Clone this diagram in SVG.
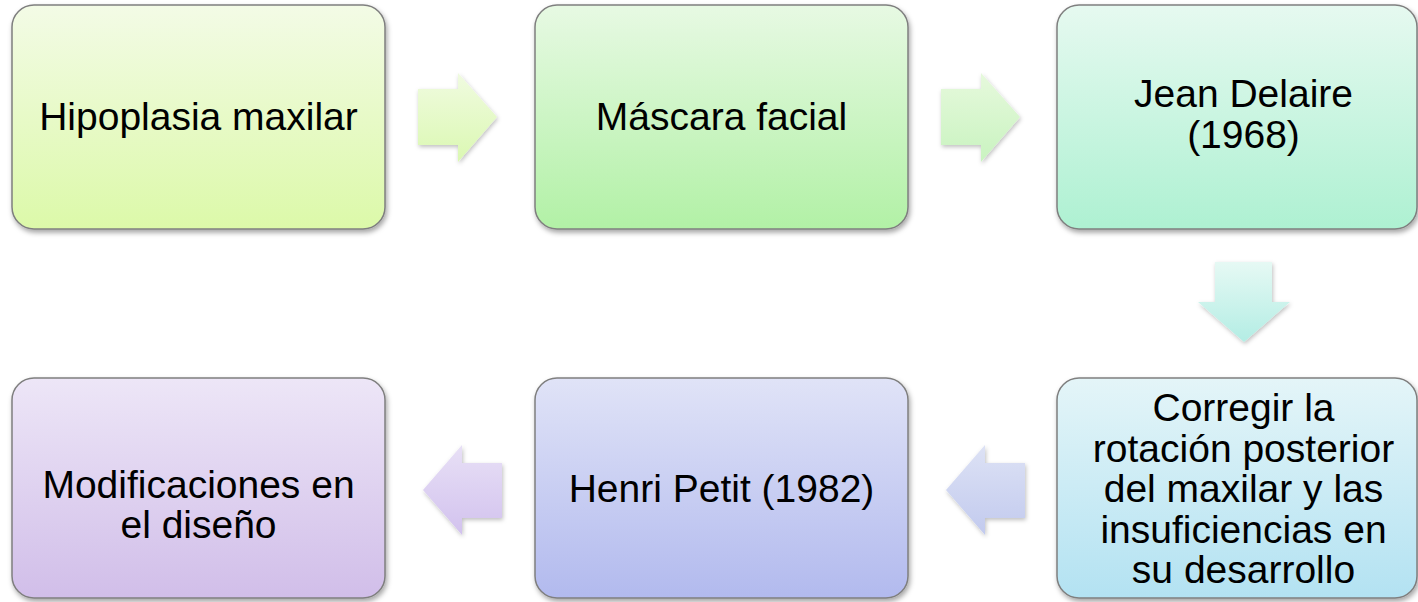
<svg xmlns="http://www.w3.org/2000/svg" width="1418" height="602" viewBox="0 0 1418 602">
<defs>
<filter id="sh" x="-10%" y="-10%" width="120%" height="125%">
<feDropShadow dx="1.5" dy="3" stdDeviation="2.5" flood-color="#000" flood-opacity="0.35"/>
</filter>
<filter id="ash" x="-20%" y="-20%" width="140%" height="140%">
<feDropShadow dx="1" dy="2" stdDeviation="2" flood-color="#000" flood-opacity="0.25"/>
</filter>
<linearGradient id="g1" x1="0" y1="0" x2="0" y2="1"><stop offset="0" stop-color="#f3fbe6"/><stop offset="1" stop-color="#dcf9a9"/></linearGradient>
<linearGradient id="g2" x1="0" y1="0" x2="0" y2="1"><stop offset="0" stop-color="#e7f9e3"/><stop offset="1" stop-color="#b2f1a6"/></linearGradient>
<linearGradient id="g3" x1="0" y1="0" x2="0" y2="1"><stop offset="0" stop-color="#e6f9f0"/><stop offset="1" stop-color="#aef1d2"/></linearGradient>
<linearGradient id="g4" x1="0" y1="0" x2="0" y2="1"><stop offset="0" stop-color="#e4f5f8"/><stop offset="1" stop-color="#b3e2f2"/></linearGradient>
<linearGradient id="g5" x1="0" y1="0" x2="0" y2="1"><stop offset="0" stop-color="#e0e3f7"/><stop offset="1" stop-color="#b2baee"/></linearGradient>
<linearGradient id="g6" x1="0" y1="0" x2="0" y2="1"><stop offset="0" stop-color="#ede6f7"/><stop offset="1" stop-color="#d1bee9"/></linearGradient>
<linearGradient id="a1" x1="0" y1="0" x2="0" y2="1"><stop offset="0" stop-color="#f0fbe0"/><stop offset="1" stop-color="#dbf8b2"/></linearGradient>
<linearGradient id="a2" x1="0" y1="0" x2="0" y2="1"><stop offset="0" stop-color="#e6f9dc"/><stop offset="1" stop-color="#c9f3c0"/></linearGradient>
<linearGradient id="a3" x1="0" y1="0" x2="0" y2="1"><stop offset="0" stop-color="#e6f9f4"/><stop offset="1" stop-color="#b3ede4"/></linearGradient>
<linearGradient id="a4" x1="0" y1="0" x2="0" y2="1"><stop offset="0" stop-color="#dde2f5"/><stop offset="1" stop-color="#c2caee"/></linearGradient>
<linearGradient id="a5" x1="0" y1="0" x2="0" y2="1"><stop offset="0" stop-color="#e8e0f6"/><stop offset="1" stop-color="#d2c2ee"/></linearGradient>
</defs>
<style>
.box{stroke:#7f7f7f;stroke-width:1.5;filter:url(#sh)}
.arr{filter:url(#ash)}
text{font-family:"Liberation Sans",Arial,sans-serif;font-size:39px;fill:#000;text-anchor:middle}
</style>
<g id="connectors">
<polygon class="arr" fill="url(#a1)" points="418,89 458,89 458,73 497,117 458,162 458,145 418,145"/>
<polygon class="arr" fill="url(#a2)" points="941,89 981,89 981,73 1020,117 981,162 981,145 941,145"/>
<polygon class="arr" fill="url(#a3)" points="1215,262 1272,262 1272,302 1290,302 1244,342 1198,302 1215,302"/>
<polygon class="arr" fill="url(#a4)" points="1025,463 985,463 985,445 946,490 985,535 985,518 1025,518"/>
<polygon class="arr" fill="url(#a5)" points="502,463 462,463 462,445 423,490 462,535 462,518 502,518"/>
</g>
<g id="n1"><rect class="box" x="12" y="5" width="373" height="224" rx="22" fill="url(#g1)"/><text x="198.5" y="130">Hipoplasia maxilar</text></g>
<g id="n2"><rect class="box" x="535" y="5" width="373" height="224" rx="22" fill="url(#g2)"/><text x="721.5" y="130">Máscara facial</text></g>
<g id="n3"><rect class="box" x="1057" y="5" width="360" height="224" rx="22" fill="url(#g3)"/><text x="1243.5" y="107">Jean Delaire</text><text x="1243.5" y="148">(1968)</text></g>
<g id="n4"><rect class="box" x="1057" y="378" width="360" height="220" rx="22" fill="url(#g4)"/><text x="1243.5" y="421">Corregir la</text><text x="1243.5" y="461.5">rotación posterior</text><text x="1243.5" y="502">del maxilar y las</text><text x="1243.5" y="542.5">insuficiencias en</text><text x="1243.5" y="583">su desarrollo</text></g>
<g id="n5"><rect class="box" x="535" y="378" width="373" height="220" rx="22" fill="url(#g5)"/><text x="721.5" y="502">Henri Petit (1982)</text></g>
<g id="n6"><rect class="box" x="12" y="378" width="373" height="220" rx="22" fill="url(#g6)"/><text x="198.5" y="498">Modificaciones en</text><text x="198.5" y="538">el diseño</text></g>
</svg>
